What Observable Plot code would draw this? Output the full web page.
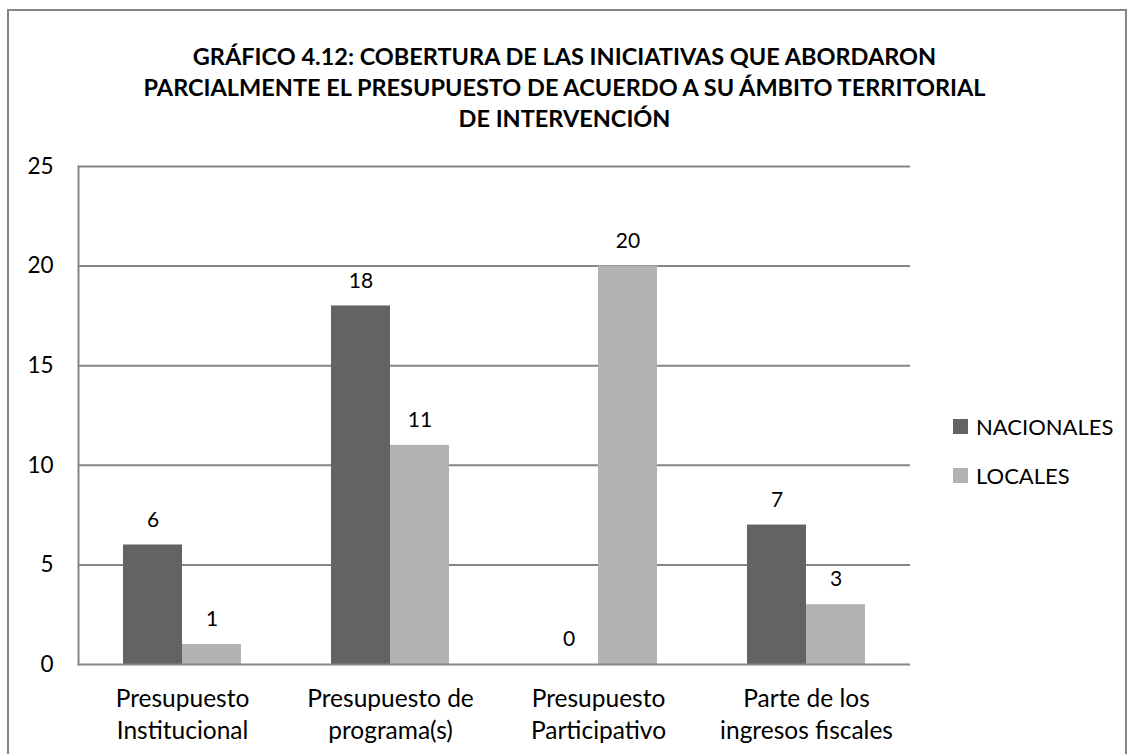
<!DOCTYPE html>
<html>
<head>
<meta charset="utf-8">
<script src="https://cdn.jsdelivr.net/npm/d3@7"></script>
<script src="https://cdn.jsdelivr.net/npm/@observablehq/plot@0.6"></script>
<style>
  html, body { margin: 0; padding: 0; background: #fff; width: 1129px; height: 754px; overflow: hidden; }
  body { position: relative; font-family: Lato, Carlito, "Liberation Sans", sans-serif; color: #000; }
  #frame { position: absolute; left: 7px; top: 9px; width: 1120px; height: 780px; border: 2px solid #868686; box-sizing: border-box; }
  #title { position: absolute; left: 0; top: 41px; width: 1129px; text-align: center; font-weight: bold; font-size: 23.5px; line-height: 31px; }
  #chart { position: absolute; left: 0; top: 140px; }
  #chart svg { overflow: visible; }
  #legend { position: absolute; left: 953px; top: 411px; font-size: 22px; }
  .item { display: flex; align-items: center; height: 30px; margin-bottom: 19px; }
  .sw { width: 15px; height: 15px; margin-right: 8px; }
</style>
</head>
<body>
<div id="frame"></div>
<div id="title">GRÁFICO 4.12: COBERTURA DE LAS INICIATIVAS QUE ABORDARON<br>PARCIALMENTE EL PRESUPUESTO DE ACUERDO A SU ÁMBITO TERRITORIAL<br>DE INTERVENCIÓN</div>
<div id="chart"></div>
<div id="legend"></div>
<script>
const categories = ["Presupuesto\nInstitucional", "Presupuesto de\nprograma(s)", "Presupuesto\nParticipativo", "Parte de los\ningresos fiscales"];
const series = ["NACIONALES", "LOCALES"];
const nacionales = [6, 18, 0, 7];
const locales = [1, 11, 20, 3];
const colors = ["#636363", "#b2b2b2"];
const yTicks = [0, 5, 10, 15, 20, 25];

const rows = [];
categories.forEach((c, i) => {
  rows.push({cat: c, serie: series[0], value: nacionales[i]});
  rows.push({cat: c, serie: series[1], value: locales[i]});
});

const gridColor = "#868686";

const chart = Plot.plot({
  width: 930,
  height: 614,
  marginLeft: 77,
  marginRight: 20,
  marginTop: 26,
  marginBottom: 90,
  style: {fontFamily: "Lato, Carlito, 'Liberation Sans', sans-serif", fontSize: "20px", color: "#000", background: "transparent"},
  fx: {domain: categories, padding: 0, label: null},
  x: {domain: series, paddingInner: 0, paddingOuter: 0.75, axis: null},
  y: {domain: [0, 25], label: null},
  color: {domain: series, range: colors},
  marks: [
    Plot.ruleY(yTicks.filter(t => t > 0), {stroke: gridColor, strokeWidth: 2}),
    Plot.barY(rows, {fx: "cat", x: "serie", y: "value", fill: "serie"}),
    Plot.ruleY([0], {stroke: gridColor, strokeWidth: 2}),
    Plot.text(rows, {fx: "cat", x: "serie", y: "value", text: d => String(d.value), dy: -25, fontSize: 21, fill: "#000"}),
    Plot.frame({anchor: "left", facetAnchor: "left", stroke: gridColor, strokeWidth: 2}),
    Plot.axisY({ticks: yTicks, tickSize: 0, tickPadding: 25, fontSize: 22.5, label: null}),
    Plot.axisFx({anchor: "bottom", tickSize: 0, tickPadding: 20, fontSize: 24.5, lineHeight: 1.3, label: null})
  ]
});
document.getElementById("chart").appendChild(chart);

const legend = document.getElementById("legend");
series.forEach((s, i) => {
  const item = document.createElement("div");
  item.className = "item";
  const sw = document.createElement("div");
  sw.className = "sw";
  sw.style.background = colors[i];
  const t = document.createElement("span");
  t.textContent = s;
  item.appendChild(sw);
  item.appendChild(t);
  legend.appendChild(item);
});
</script>
</body>
</html>
